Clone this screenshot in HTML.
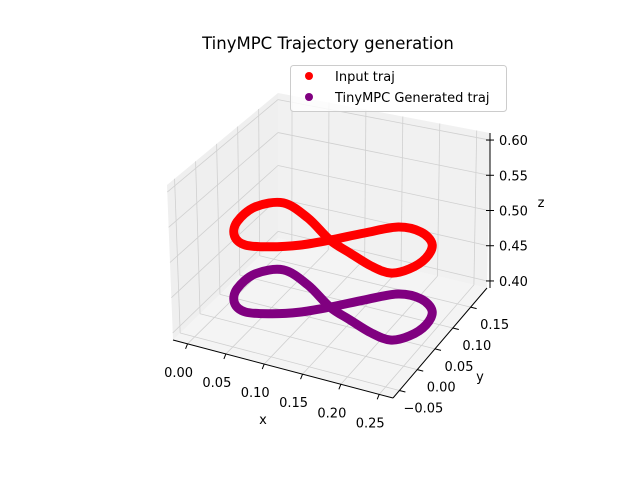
<!DOCTYPE html>
<html><head><meta charset="utf-8">
<style>
html,body{margin:0;padding:0;background:#fff;}
svg{display:block;font-family:"DejaVu Sans","Liberation Sans",sans-serif;}
</style></head>
<body>
<svg id="chart" width="640" height="480" viewBox="0 0 640 480" xmlns="http://www.w3.org/2000/svg">
<rect width="640" height="480" fill="#fff"/>
<text x="328" y="49" font-size="16.5" text-anchor="middle" fill="#000">TinyMPC Trajectory generation</text>
<g id="panes"></g>
<g id="grid"></g>
<g id="axes"></g>
<g id="series"></g>
<g id="legend">
  <rect x="290.5" y="65.5" width="216" height="46" rx="3" fill="#fff" fill-opacity="0.8" stroke="#cccccc"/>
  <circle cx="309" cy="76" r="4" fill="#ff0000"/>
  <text x="335" y="81" font-size="13" fill="#000">Input traj</text>
  <circle cx="309" cy="97" r="4" fill="#800080"/>
  <text x="335" y="102" font-size="13" fill="#000">TinyMPC Generated traj</text>
</g>
</svg>
<script>
// ---- data ----
const xTicks = [0.00, 0.05, 0.10, 0.15, 0.20, 0.25];
const yTicks = [-0.05, 0.00, 0.05, 0.10, 0.15];
const zTicks = [0.40, 0.45, 0.50, 0.55, 0.60];
const xTickLabels = ["0.00","0.05","0.10","0.15","0.20","0.25"];
const yTickLabels = ["\u22120.05","0.00","0.05","0.10","0.15"];
const zTickLabels = ["0.40","0.45","0.50","0.55","0.60"];
const trajX = [0.133,0.089,0.049,0.022,0.016,0.026,0.046,0.074,0.105,0.133,0.164,0.195,0.224,0.247,0.253,0.245,0.228,0.201,0.166];
const trajY = [0.073,0.118,0.142,0.112,0.059,0.019,0.002,0.014,0.039,0.073,0.116,0.155,0.157,0.132,0.090,0.049,0.025,0.031,0.052];
const inputZ = 0.5;
const generatedZ = 0.407;

const NS = "http://www.w3.org/2000/svg";
function mk(tag, attrs, parent){const e=document.createElementNS(NS,tag);for(const k in attrs)e.setAttribute(k,attrs[k]);parent.appendChild(e);return e;}

// ---- box geometry (axes function) ----
const XR=[-0.019,0.268], YR=[-0.068,0.196], ZR=[0.39,0.61];
const B={FL:[173,340],FR:[393,398],BR:[487,288],BL:[278,238]};
const T={FL:[167,185],FR:[396,243],BR:[490,133],BL:[278,93]};
function bil(c,u,v){ // u along x, v along y
  const f=(i)=>c.FL[i]*(1-u)*(1-v)+c.FR[i]*u*(1-v)+c.BR[i]*u*v+c.BL[i]*(1-u)*v;
  return [f(0),f(1)];
}
function box(x,y,z){
  const u=(x-XR[0])/(XR[1]-XR[0]), v=(y-YR[0])/(YR[1]-YR[0]), w=(z-ZR[0])/(ZR[1]-ZR[0]);
  const b=bil(B,u,v), t=bil(T,u,v);
  return [b[0]+(t[0]-b[0])*w, b[1]+(t[1]-b[1])*w];
}
// data projection
function proj(x,y,z){
  return [186.8+764*x+255*(y+0.09), 343.5+192*x-305*(y+0.09)-720*(z-0.39)];
}

const panes=document.getElementById('panes');
function poly(pts,fill,name){const p=mk('polygon',{points:pts.map(q=>q.join(',')).join(' '),fill:fill,stroke:'none'},panes);

}
poly([B.FL,B.FR,B.BR,B.BL],'#f4f4f4','floor-pane');
poly([B.FL,B.BL,T.BL,T.FL],'#efefef','left-pane');
poly([B.BL,B.BR,T.BR,T.BL],'#f1f1f1','back-pane');

const grid=document.getElementById('grid');
function line(p,q,stroke,w,parent,name){const l=mk('line',{x1:p[0],y1:p[1],x2:q[0],y2:q[1],stroke:stroke,'stroke-width':w},parent);

return l;}
const gc='#d0d0d0';
xTicks.forEach(x=>{
  line(box(x,YR[0],ZR[0]),box(x,YR[1],ZR[0]),gc,0.8,grid,'x-grid-floor');
  line(box(x,YR[1],ZR[0]),box(x,YR[1],ZR[1]),gc,0.8,grid,'x-grid-back');
});
yTicks.forEach(y=>{
  line(box(XR[0],y,ZR[0]),box(XR[1],y,ZR[0]),gc,0.8,grid,'y-grid-floor');
  line(box(XR[0],y,ZR[0]),box(XR[0],y,ZR[1]),gc,0.8,grid,'y-grid-left');
});
zTicks.forEach(z=>{
  line(box(XR[0],YR[0],z),box(XR[0],YR[1],z),gc,0.8,grid,'z-grid-left');
  line(box(XR[0],YR[1],z),box(XR[1],YR[1],z),gc,0.8,grid,'z-grid-back');
});

const axes=document.getElementById('axes');
line(B.FL,B.FR,'#000',1,axes,'x-axis-line');
line(B.FR,B.BR,'#000',1,axes,'y-axis-line');
line([490,288],[490,133],'#000',1,axes,'z-axis-line');
function txt(x,y,s,anchor,name){const t=mk('text',{x:x,y:y,'font-size':13,'text-anchor':anchor,fill:'#000'},axes);t.textContent=s;

return t;}
xTicks.forEach((x,i)=>{
  const p=box(x,YR[0],ZR[0]);
  line(p,[p[0]-2,p[1]+5],'#000',1,axes,'x-tick');
  txt(p[0]-9,p[1]+33,xTickLabels[i],'middle','x-tick-label');
});
yTicks.forEach((y,i)=>{
  const p=box(XR[1],y,ZR[0]);
  line(p,[p[0]+6,p[1]+1.5],'#000',1,axes,'y-tick');
  txt(p[0]+24,p[1]+22,yTickLabels[i],'middle','y-tick-label');
});
zTicks.forEach((z,i)=>{
  const p=box(XR[1],YR[1],z);
  line([486,p[1]],[494,p[1]],'#000',1,axes,'z-tick');
  txt(499,p[1]+5,zTickLabels[i],'start','z-tick-label');
});
txt(263,424,'x','middle','x-axis-title');
txt(480,381,'y','middle','y-axis-title');
txt(541,207,'z','middle','z-axis-title');

// ---- series ----
const series=document.getElementById('series');
function smoothPath(pts){
  const n=pts.length;let d='M'+pts[0][0].toFixed(1)+','+pts[0][1].toFixed(1);
  for(let i=0;i<n;i++){
    const p0=pts[(i-1+n)%n],p1=pts[i],p2=pts[(i+1)%n],p3=pts[(i+2)%n];
    const c1=[p1[0]+(p2[0]-p0[0])/6,p1[1]+(p2[1]-p0[1])/6];
    const c2=[p2[0]-(p3[0]-p1[0])/6,p2[1]-(p3[1]-p1[1])/6];
    d+=' C'+c1[0].toFixed(1)+','+c1[1].toFixed(1)+' '+c2[0].toFixed(1)+','+c2[1].toFixed(1)+' '+p2[0].toFixed(1)+','+p2[1].toFixed(1);
  }
  return d+'Z';
}
const redPts=trajX.map((x,i)=>proj(x,trajY[i],inputZ));
const purPts=trajX.map((x,i)=>proj(x,trajY[i],generatedZ));
const pp=mk('path',{d:smoothPath(purPts),fill:'none',stroke:'#800080','stroke-width':9,'stroke-linejoin':'round'},series);


const rp=mk('path',{d:smoothPath(redPts),fill:'none',stroke:'#ff0000','stroke-width':9,'stroke-linejoin':'round'},series);


</script>
</body></html>
